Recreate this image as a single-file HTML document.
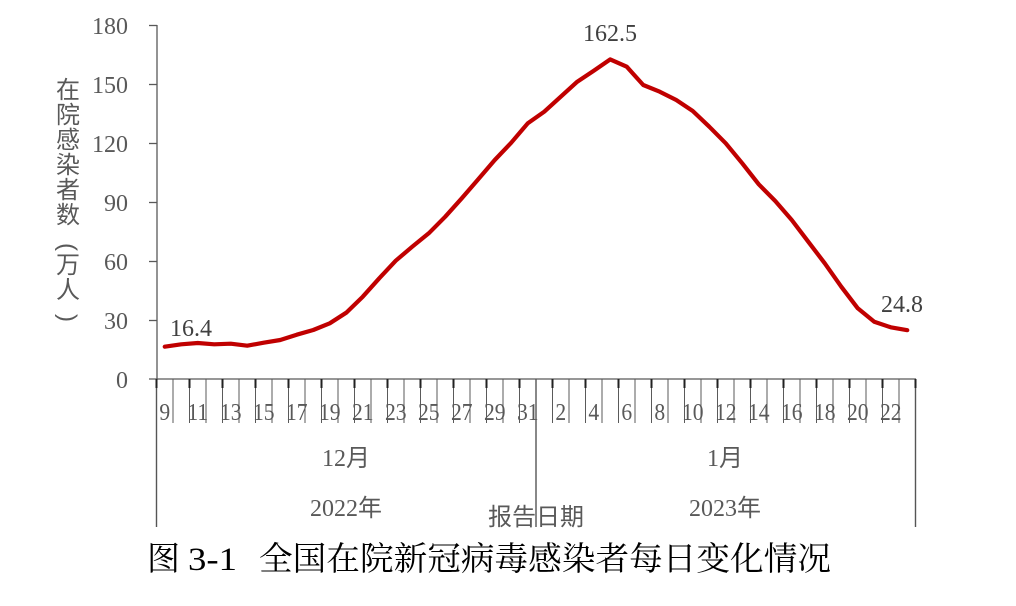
<!DOCTYPE html>
<html><head><meta charset="utf-8"><style>
html,body{margin:0;padding:0;background:#fff;}
svg{display:block;}
</style></head><body>
<svg width="1016" height="606" viewBox="0 0 1016 606" xmlns="http://www.w3.org/2000/svg">
<rect width="1016" height="606" fill="#fff"/>
<g stroke="#595959" stroke-width="1.3" fill="none">
<line x1="157" y1="25" x2="157" y2="379"/>
<line x1="149" y1="379" x2="916" y2="379"/>
<line x1="149" y1="25.5" x2="157" y2="25.5"/>
<line x1="149" y1="84.5" x2="157" y2="84.5"/>
<line x1="149" y1="143.5" x2="157" y2="143.5"/>
<line x1="149" y1="202.5" x2="157" y2="202.5"/>
<line x1="149" y1="261.5" x2="157" y2="261.5"/>
<line x1="149" y1="320.5" x2="157" y2="320.5"/>
</g>
<path fill="none" stroke="#5a5a5a" stroke-width="1" d="M173 379V423 M189.5 379V423 M206 379V423 M222.5 379V423 M239 379V423 M255.5 379V423 M272 379V423 M288.5 379V423 M305 379V423 M321.5 379V423 M338 379V423 M354.5 379V423 M371 379V423 M387.5 379V423 M404 379V423 M420.5 379V423 M437 379V423 M453.5 379V423 M470 379V423 M486.5 379V423 M503 379V423 M519.5 379V423 M552.5 379V423 M569 379V423 M585.5 379V423 M602 379V423 M618.5 379V423 M635 379V423 M651.5 379V423 M668 379V423 M684.5 379V423 M701 379V423 M717.5 379V423 M734 379V423 M750.5 379V423 M767 379V423 M783.5 379V423 M800 379V423 M816.5 379V423 M833 379V423 M849.5 379V423 M866 379V423 M882.5 379V423 M899 379V423"/>
<path fill="none" stroke="#555" stroke-width="1.4" d="M156.5 379V527 M536 379V527 M915.5 379V527"/>
<path fill="none" stroke="#222" stroke-width="2" d="M156.5 379V388 M189.5 379V388 M222.5 379V388 M255.5 379V388 M288.5 379V388 M321.5 379V388 M354.5 379V388 M387.5 379V388 M420.5 379V388 M453.5 379V388 M486.5 379V388 M519.5 379V388 M552.5 379V388 M585.5 379V388 M618.5 379V388 M651.5 379V388 M684.5 379V388 M717.5 379V388 M750.5 379V388 M783.5 379V388 M816.5 379V388 M849.5 379V388 M882.5 379V388 M915.5 379V388"/>
<g fill="#595959" font-family="Liberation Serif, serif" font-size="24" text-anchor="end">
<text x="128" y="34">180</text>
<text x="128" y="93">150</text>
<text x="128" y="152">120</text>
<text x="128" y="211">90</text>
<text x="128" y="270">60</text>
<text x="128" y="329">30</text>
<text x="128" y="388">0</text>
</g>
<g fill="#595959" font-family="Liberation Serif, serif" font-size="24" text-anchor="middle">
<text transform="translate(164.75,420) scale(0.9,1)">9</text>
<text transform="translate(197.75,420) scale(0.9,1)">11</text>
<text transform="translate(230.75,420) scale(0.9,1)">13</text>
<text transform="translate(263.75,420) scale(0.9,1)">15</text>
<text transform="translate(296.75,420) scale(0.9,1)">17</text>
<text transform="translate(329.75,420) scale(0.9,1)">19</text>
<text transform="translate(362.75,420) scale(0.9,1)">21</text>
<text transform="translate(395.75,420) scale(0.9,1)">23</text>
<text transform="translate(428.75,420) scale(0.9,1)">25</text>
<text transform="translate(461.75,420) scale(0.9,1)">27</text>
<text transform="translate(494.75,420) scale(0.9,1)">29</text>
<text transform="translate(527.75,420) scale(0.9,1)">31</text>
<text transform="translate(560.75,420) scale(0.9,1)">2</text>
<text transform="translate(593.75,420) scale(0.9,1)">4</text>
<text transform="translate(626.75,420) scale(0.9,1)">6</text>
<text transform="translate(659.75,420) scale(0.9,1)">8</text>
<text transform="translate(692.75,420) scale(0.9,1)">10</text>
<text transform="translate(725.75,420) scale(0.9,1)">12</text>
<text transform="translate(758.75,420) scale(0.9,1)">14</text>
<text transform="translate(791.75,420) scale(0.9,1)">16</text>
<text transform="translate(824.75,420) scale(0.9,1)">18</text>
<text transform="translate(857.75,420) scale(0.9,1)">20</text>
<text transform="translate(890.75,420) scale(0.9,1)">22</text>
</g>
<g fill="#595959" font-family="Liberation Serif, 'Noto Sans CJK SC', sans-serif" font-size="24" text-anchor="middle">
<text x="346" y="466">12月</text>
<text x="725" y="466">1月</text>
<text x="346" y="516">2022年</text>
<text x="725" y="516">2023年</text>
</g>
<text x="536" y="525" fill="#595959" font-family="'Noto Sans CJK SC', sans-serif" font-size="24" text-anchor="middle">报告日期</text>
<g fill="#595959" font-family="'Noto Sans CJK SC', sans-serif" font-size="24" text-anchor="middle">
<text x="68" y="98">在</text>
<text x="68" y="123">院</text>
<text x="68" y="148">感</text>
<text x="68" y="173">染</text>
<text x="68" y="198">者</text>
<text x="68" y="223">数</text>
<text x="68" y="273">万</text>
<text x="68" y="298">人</text>
</g>
<g fill="#595959" font-family="'Liberation Sans', sans-serif" font-size="24" text-anchor="middle">
<text x="68" y="255" transform="rotate(90 68 247)">(</text>
<text x="68" y="326" transform="rotate(90 68 318)">)</text>
</g>
<polyline fill="none" stroke="#C00000" stroke-width="4.2" stroke-linejoin="round" stroke-linecap="round" points="164.75,346.7 181.25,344.3 197.75,343 214.25,344.3 230.75,343.7 247.25,345.7 263.75,342.7 280.25,340 296.75,334.7 313.25,330 329.75,323.3 346.25,312.7 362.75,296.7 379.25,278.3 395.75,260.7 412.25,246.7 428.75,233.3 445.25,216.7 461.75,198.3 478.25,179.3 494.75,160 511.25,142.7 527.75,123.3 544.25,111.7 560.75,96.7 577.25,81.7 593.75,70.7 610.25,59.4 626.75,66.7 643.25,85 659.75,91.7 676.25,100 692.75,111 709.25,126.7 725.75,143.3 742.25,163.3 758.75,184.3 775.25,201 791.75,220 808.25,241.7 824.75,263.3 841.25,286.7 857.75,308.3 874.25,321.7 890.75,327.3 907.25,330.2"/>
<g fill="#404040" font-family="Liberation Serif, serif" font-size="24">
<text x="170" y="336">16.4</text>
<text x="583" y="41">162.5</text>
<text x="881" y="312">24.8</text>
</g>
<g fill="#000" font-family="'Noto Serif CJK SC', serif" font-size="33">
<text x="147" y="570">图</text>
<text x="188" y="570" font-family="'Liberation Serif', serif" textLength="49" lengthAdjust="spacingAndGlyphs">3-1</text>
<text x="259" y="570" textLength="572" lengthAdjust="spacingAndGlyphs">全国在院新冠病毒感染者每日变化情况</text>
</g>
</svg>
</body></html>
